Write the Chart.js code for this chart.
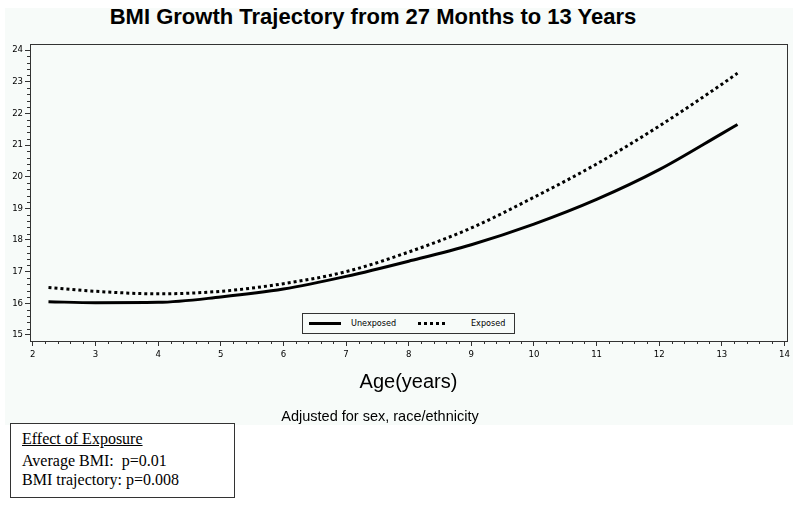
<!DOCTYPE html>
<html>
<head>
<meta charset="utf-8">
<script src="https://cdn.jsdelivr.net/npm/chart.js@4/dist/chart.umd.min.js"></script>
<style>
  html, body { margin:0; padding:0; background:#ffffff; }
  #wrap { position:relative; width:800px; height:508px; overflow:hidden; font-family:"Liberation Sans", Arial, sans-serif; }
  #bg { position:absolute; left:5px; top:8px; width:788px; height:417px; background:#f7fbf9; }
  #c { position:absolute; left:0; top:0; }
  #title { position:absolute; left:0; width:746px; top:4px; text-align:center; font-weight:bold; font-size:22px; color:#000; }
  #xlab { position:absolute; left:30px; width:757px; top:370px; text-align:center; font-size:20px; color:#000; }
  #adj { position:absolute; left:180px; width:400px; top:408px; text-align:center; font-size:14.5px; color:#000; }
  #legend { position:absolute; left:302px; top:313px; width:211px; height:19px; border:1px solid #333; background:#f7fbf9; font-size:9px; font-family:"DejaVu Sans Condensed","DejaVu Sans",sans-serif; color:#000; }
  .ls { position:absolute; top:8px; height:3px; }
  .lt { position:absolute; top:4px; }
  #box { position:absolute; left:10px; top:423px; width:223px; height:73px; border:1px solid #333; background:#fff; font-family:"Liberation Serif","Times New Roman",serif; font-size:16px; line-height:18px; color:#000; }
  #box div { position:absolute; left:11px; white-space:nowrap; }
</style>
</head>
<body>
<div id="wrap">
  <div id="bg"></div>
  <div id="title">BMI Growth Trajectory from 27 Months to 13 Years</div>
  <canvas id="c" width="800" height="508"></canvas>
  <div id="xlab">Age(years)</div>
  <div id="adj">Adjusted for sex, race/ethnicity</div>
  <div id="legend">
    <div class="ls" style="left:6px;width:32px;background:#000;"></div>
    <div class="lt" style="left:48px;">Unexposed</div>
    <div class="ls" style="left:115px;width:29px;background:repeating-linear-gradient(to right,#000 0 3px,transparent 3px 6px);"></div>
    <div class="lt" style="left:168px;">Exposed</div>
  </div>
  <div id="box">
    <div style="top:6px;text-decoration:underline;">Effect of Exposure</div>
    <div style="top:28px;">Average BMI:&nbsp; p=0.01</div>
    <div style="top:47px;">BMI trajectory: p=0.008</div>
  </div>
</div>
<script>
// ---- data ----
const ages       = [2.25, 3, 4, 5, 6, 7, 8, 9, 10, 11, 12, 13, 13.25];
const unexposed  = [16.05, 16.02, 16.03, 16.2, 16.45, 16.85, 17.33, 17.85, 18.5, 19.28, 20.22, 21.36, 21.65];
const exposed    = [16.5, 16.38, 16.3, 16.38, 16.62, 17.0, 17.62, 18.38, 19.35, 20.4, 21.6, 22.92, 23.27];
const xTicks     = [2, 3, 4, 5, 6, 7, 8, 9, 10, 11, 12, 13, 14];
const yTicks     = [15, 16, 17, 18, 19, 20, 21, 22, 23, 24];
const seriesNames = ["Unexposed", "Exposed"];

const toPts = (xs, ys) => xs.map((x, i) => ({ x: x, y: ys[i] }));

const tickFont = { family: "'DejaVu Sans Condensed','DejaVu Sans',sans-serif", size: 9.5 };

const frameAndMinor = {
  id: 'frameAndMinor',
  afterDraw(chart) {
    const ctx = chart.ctx, a = chart.chartArea;
    const xs = chart.scales.x, ys = chart.scales.y;
    ctx.save();
    ctx.strokeStyle = '#333';
    ctx.lineWidth = 1;
    ctx.strokeRect(Math.round(a.left) + 0.5, Math.round(a.top) + 0.5, Math.round(a.right - a.left), Math.round(a.bottom - a.top));
    ctx.beginPath();
    for (let i = 0; i < xTicks.length - 1; i++) {
      for (let k = 1; k < 5; k++) {
        const px = Math.round(xs.getPixelForValue(xTicks[i] + k * 0.2)) + 0.5;
        ctx.moveTo(px, a.bottom); ctx.lineTo(px, a.bottom + 3);
      }
    }
    for (let i = 0; i < yTicks.length - 1; i++) {
      for (let k = 1; k < 5; k++) {
        const py = Math.round(ys.getPixelForValue(yTicks[i] + k * 0.2)) + 0.5;
        ctx.moveTo(a.left, py); ctx.lineTo(a.left - 3, py);
      }
    }
    ctx.stroke();
    ctx.restore();
  }
};

new Chart(document.getElementById('c'), {
  type: 'line',
  data: {
    datasets: [
      { label: seriesNames[0], data: toPts(ages, unexposed), borderColor: '#000', borderWidth: 3, pointRadius: 0, tension: 0.4, cubicInterpolationMode: 'monotone', fill: false },
      { label: seriesNames[1], data: toPts(ages, exposed), borderColor: '#000', borderWidth: 3, borderDash: [3, 3], borderCapStyle: 'butt', pointRadius: 0, tension: 0.4, cubicInterpolationMode: 'monotone', fill: false }
    ]
  },
  options: {
    responsive: false,
    animation: false,
    devicePixelRatio: 1,
    layout: { padding: { left: 0, right: 13, top: 44, bottom: 0 } },
    plugins: { legend: { display: false }, tooltip: { enabled: false }, title: { display: false } },
    scales: {
      x: {
        type: 'linear', min: 1.955, max: 14.04,
        afterBuildTicks: s => { s.ticks = xTicks.map(v => ({ value: v })); },
        afterFit: s => { s.height = 167; },
        grid: { drawOnChartArea: false, tickLength: 5, color: '#333' },
        border: { color: '#333' },
        ticks: { font: tickFont, color: '#000', padding: 3, maxRotation: 0, autoSkip: false }
      },
      y: {
        type: 'linear', min: 14.81, max: 24.19,
        afterBuildTicks: s => { s.ticks = yTicks.map(v => ({ value: v })); },
        afterFit: s => { s.width = 30; },
        grid: { drawOnChartArea: false, tickLength: 5, color: '#333' },
        border: { color: '#333' },
        ticks: { font: tickFont, color: '#000', padding: 2, autoSkip: false }
      }
    }
  },
  plugins: [frameAndMinor]
});
</script>
</body>
</html>
